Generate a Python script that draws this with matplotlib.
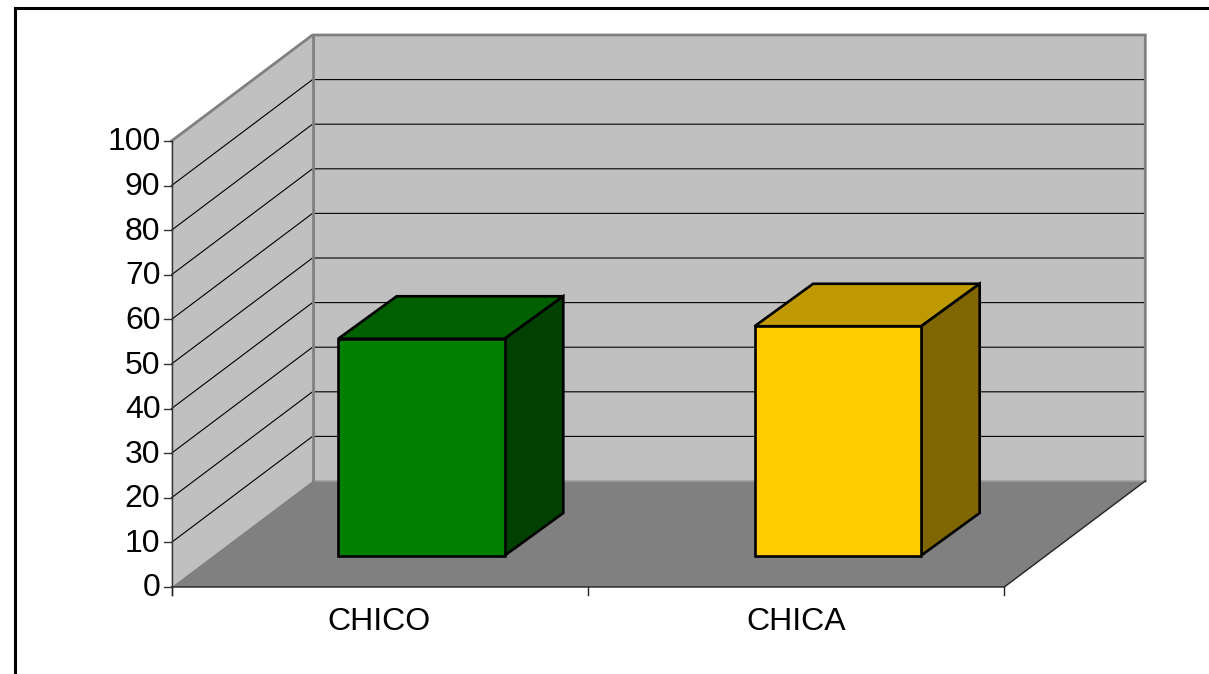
import matplotlib
matplotlib.use("Agg")
import matplotlib.pyplot as plt
from matplotlib.patches import Polygon

categories = ["CHICO", "CHICA"]
values = [48.6, 51.4]
front_colors = ["#008000", "#FFCC00"]
top_colors = ["#006000", "#BF9900"]
side_colors = ["#004000", "#806600"]
y_ticks = [0, 10, 20, 30, 40, 50, 60, 70, 80, 90, 100]

# pixel geometry of the fake 3d box
x0 = 171.5
x1 = 1004.3
y0 = 587.0
px_per_unit = 4.46
depth_x = 141.0
depth_y = 106.0
slot = (x1 - x0) / len(categories)

plt.rcParams["font.family"] = ["Liberation Sans", "DejaVu Sans"]

fig = plt.figure(figsize=(12.09, 6.74), dpi=100)
ax = fig.add_axes([0, 0, 1, 1])
ax.set_xlim(0, 1209)
ax.set_ylim(674, 0)
ax.axis("off")


def vy(v):
    return y0 - v * px_per_unit


top = vy(max(y_ticks))

# walls and floor
ax.add_patch(Polygon([(x0 + depth_x, y0 - depth_y), (x0 + depth_x + (x1 - x0), y0 - depth_y),
                      (x0 + depth_x + (x1 - x0), top - depth_y), (x0 + depth_x, top - depth_y)],
                     fc="#C0C0C0", ec="none", zorder=1))
ax.add_patch(Polygon([(x0, y0), (x0 + depth_x, y0 - depth_y), (x0 + depth_x, top - depth_y), (x0, top)],
                     fc="#C0C0C0", ec="none", zorder=1))
ax.add_patch(Polygon([(x0, y0), (x1, y0), (x1 + depth_x, y0 - depth_y), (x0 + depth_x, y0 - depth_y)],
                     fc="#808080", ec="none", zorder=2))

# gridlines
for t in y_ticks[1:-1]:
    ax.plot([x0, x0 + depth_x, x0 + depth_x + (x1 - x0)], [vy(t), vy(t) - depth_y, vy(t) - depth_y],
            color="black", lw=0.8, zorder=3)

# wall edges
wall_right = x0 + depth_x + (x1 - x0)
ax.plot([x0, x0 + depth_x, wall_right, wall_right], [top, top - depth_y, top - depth_y, y0 - depth_y],
        color="#808080", lw=2.0, zorder=4, solid_joinstyle="miter")
ax.plot([x0 + depth_x, x0 + depth_x], [top - depth_y, y0 - depth_y], color="#808080", lw=2.0, zorder=4)
ax.plot([x0 + depth_x, wall_right], [y0 - depth_y, y0 - depth_y], color="#A0A0A0", lw=1.2, zorder=3)

# axis lines and ticks
ax.plot([x0, x0], [top, y0 + 8], color="#333333", lw=1.0, zorder=5)
ax.plot([x0, x1, x1 + depth_x], [y0, y0, y0 - depth_y], color="#222222", lw=1.0, zorder=5)
for i in range(len(categories) + 1):
    ax.plot([x0 + i * slot] * 2, [y0, y0 + 8], color="#222222", lw=1.0, zorder=5)
for t in y_ticks:
    ax.plot([x0 - 8, x0], [vy(t), vy(t)], color="#333333", lw=1.0, zorder=5)
    ax.text(x0 - 11, vy(t) + 1.5, str(t), ha="right", va="center", fontsize=23, color="black",
            zorder=6)

# bars
bar_w = 0.4 * slot
bar_dx = 58.5
bar_dy = 42.5
base = 555.5
for i, v in enumerate(values):
    left = x0 + (i + 0.5) * slot + 41.8 - bar_w / 2
    right = left + bar_w
    h = base - v * px_per_unit
    ax.add_patch(Polygon([(left, base), (right, base), (right, h), (left, h)],
                         fc=front_colors[i], ec="black", lw=1.9, zorder=8, joinstyle="miter"))
    ax.add_patch(Polygon([(left, h), (right, h), (right + bar_dx, h - bar_dy), (left + bar_dx, h - bar_dy)],
                         fc=top_colors[i], ec="black", lw=1.9, zorder=7, joinstyle="miter"))
    ax.add_patch(Polygon([(right, base), (right + bar_dx, base - bar_dy), (right + bar_dx, h - bar_dy), (right, h)],
                         fc=side_colors[i], ec="black", lw=1.9, zorder=7, joinstyle="miter"))
    ax.text(x0 + (i + 0.5) * slot - 0.5 + (i * 0.5), 621.5, categories[i], ha="center", va="center",
            fontsize=23, color="black", zorder=6)

# outer frame, cut off by the image on the right and bottom
ax.plot([14.5, 14.5, 1209], [674, 8, 8], color="black", lw=2.2, zorder=9, solid_joinstyle="miter")

fig.savefig("out.png", dpi=100)
